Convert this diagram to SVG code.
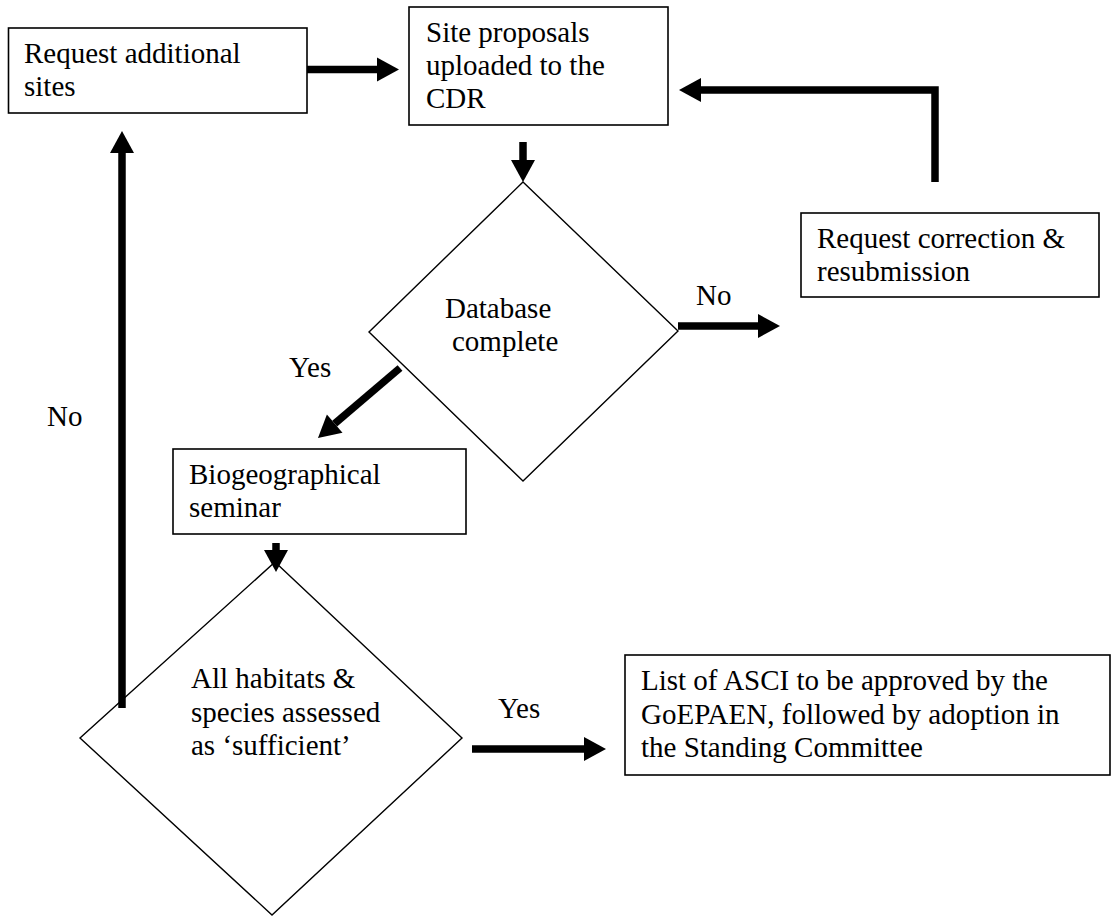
<svg xmlns="http://www.w3.org/2000/svg" width="1112" height="921" viewBox="0 0 1112 921">
<defs>
<style>
.box{fill:#fff;stroke:#000;stroke-width:1.6}
.dia{fill:#fff;stroke:#000;stroke-width:1.4}
.t{font-family:"Liberation Serif","Times New Roman",serif;font-size:29px;fill:#000}
.c{fill:none;stroke:#000;stroke-width:7.5;stroke-linejoin:miter;marker-end:url(#ah)}
</style>
<marker id="ah" markerUnits="userSpaceOnUse" markerWidth="22" markerHeight="24" viewBox="0 0 22 24" refX="0" refY="12" orient="auto" overflow="visible">
<path d="M0,0 L22,12 L0,24 z" fill="#000"/>
</marker>
</defs>
<rect width="1112" height="921" fill="#fff"/>
<g id="n-request-additional">
<rect class="box" x="8.5" y="28" width="298.5" height="85"/>
<text class="t" x="24" y="63">Request additional</text>
<text class="t" x="24" y="96">sites</text>
</g>
<g id="n-site-proposals">
<rect class="box" x="409" y="7" width="259" height="118"/>
<text class="t" x="426" y="42">Site proposals</text>
<text class="t" x="426" y="75">uploaded to the</text>
<text class="t" x="426" y="108">CDR</text>
</g>
<g id="n-request-correction">
<rect class="box" x="801" y="213" width="298" height="84"/>
<text class="t" x="817" y="248">Request correction &amp;</text>
<text class="t" x="817" y="281">resubmission</text>
</g>
<g id="n-database">
<polygon class="dia" points="523,182 678,331 523,481 369,332"/>
<text class="t" x="445" y="318">Database</text>
<text class="t" x="452" y="351">complete</text>
</g>
<g id="n-biogeo">
<rect class="box" x="173" y="449" width="293" height="85"/>
<text class="t" x="189" y="484">Biogeographical</text>
<text class="t" x="189" y="517">seminar</text>
</g>
<g id="n-habitats">
<polygon class="dia" points="275,562 462,738 272,915 80,738"/>
<text class="t" x="191" y="688">All habitats &amp;</text>
<text class="t" x="191" y="722">species assessed</text>
<text class="t" x="191" y="755">as ‘sufficient’</text>
</g>
<g id="n-list">
<rect class="box" x="625" y="655" width="485" height="120"/>
<text class="t" x="641" y="690">List of ASCI to be approved by the</text>
<text class="t" x="641" y="723.5">GoEPAEN, followed by adoption in</text>
<text class="t" x="641" y="757">the Standing Committee</text>
</g>
<g id="connectors">
<line class="c" x1="307" y1="69.5" x2="377" y2="69.5"/>
<line class="c" x1="523" y1="142" x2="523" y2="160"/>
<polyline class="c" points="935,182 935,90 701,90"/>
<line class="c" x1="678" y1="326" x2="758" y2="326"/>
<line class="c" x1="400" y1="368" x2="334.7" y2="423.7"/>
<line class="c" x1="276" y1="543" x2="276" y2="550"/>
<line class="c" x1="472" y1="749" x2="584" y2="749"/>
<line class="c" x1="122" y1="708" x2="122" y2="153"/>
<text class="t" x="696" y="305">No</text>
<text class="t" x="289" y="377">Yes</text>
<text class="t" x="498" y="718">Yes</text>
<text class="t" x="47" y="426">No</text>
</g>
</svg>
